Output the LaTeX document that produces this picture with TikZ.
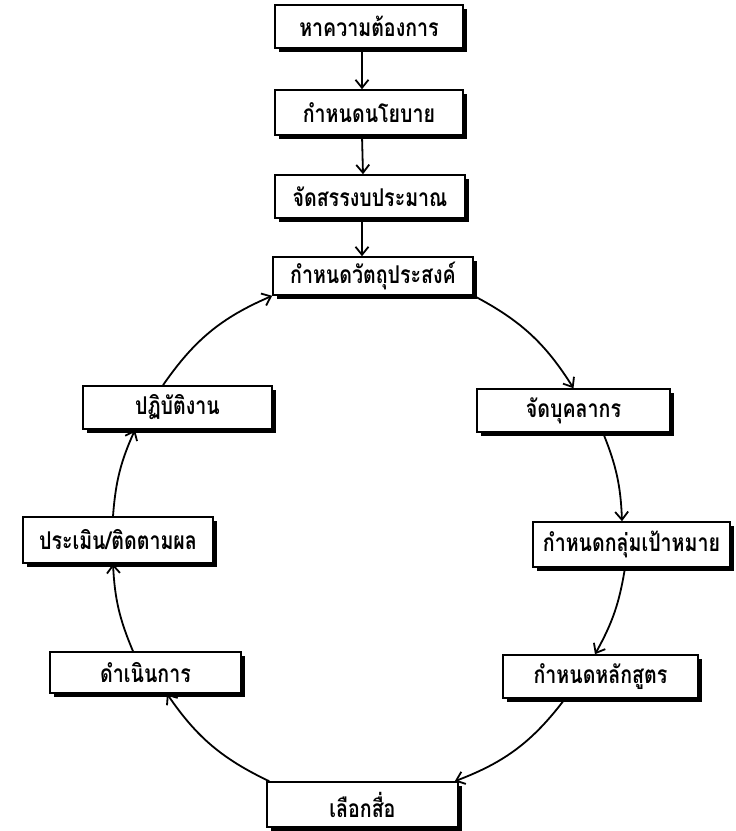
\documentclass[tikz,border=0pt]{standalone}
\usepackage{fontspec}
\newfontfamily\thaifont[Script=Thai,FakeStretch=0.8]{Loma}
\usetikzlibrary{arrows.meta,shadows}
\begin{document}
\begin{tikzpicture}[x=1pt,y=-1pt,
  box/.style={draw=black, line width=1.6pt, fill=white, minimum height=43pt,
    inner sep=0pt, font=\thaifont\bfseries\fontsize{24.5}{26}\selectfont,
    drop shadow={shadow xshift=4pt, shadow yshift=-4pt, fill=black, opacity=1}},
  conn/.style={line width=1.8pt, -{Straight Barb[length=8pt,width=13pt,line width=1.8pt]}}
]
\useasboundingbox (0,0) rectangle (736,831);
\node[box, minimum width=188pt] (n1) at (369,26.5) {หาความต้องการ};
\node[box, minimum width=188pt, minimum height=45pt] (n2) at (369,112.5) {กำหนดนโยบาย};
\node[box, minimum width=190pt] (n3) at (370,196.5) {จัดสรรงบประมาณ};
\node[box, minimum width=200pt, minimum height=38pt] (n4) at (373,276) {กำหนดวัตถุประสงค์};
\node[box, minimum width=193pt] (n5) at (573.5,410.5) {จัดบุคลากร};
\node[box, minimum width=197pt, minimum height=45pt] (n6) at (631.5,544.5) {กำหนดกลุ่มเป้าหมาย};
\node[box, minimum width=195pt] (n7) at (600.5,676.5) {กำหนดหลักสูตร};
\node[box, minimum width=191pt, minimum height=45pt] (n8) at (362.5,804.5) {เลือกสื่อ};
\node[box, minimum width=191pt, minimum height=41pt] (n9) at (145.5,672.5) {ดำเนินการ};
\node[box, minimum width=190pt, minimum height=46pt] (n10) at (118,540) {ประเมิน/ติดตามผล};
\node[box, minimum width=189pt] (n11) at (177.5,407.5) {ปฏิบัติงาน};

\draw[conn] ([xshift=-7pt]n1.south) -- ([xshift=-7pt]n2.north);
\draw[conn] ([xshift=-7pt]n2.south) -- ([xshift=-7pt]n3.north);
\draw[conn] ([xshift=-8pt]n3.south) -- ([xshift=-11pt]n4.north);

\draw[conn] (n4.south east) to[bend left=15] (n5.north);
\draw[conn] ([xshift=29.5pt]n5.south) to[bend left=10] ([xshift=-9.5pt]n6.north);
\draw[conn] ([xshift=-6.5pt]n6.south) to[bend left=10] ([xshift=-5.5pt]n7.north);
\draw[conn] ([xshift=-35.5pt]n7.south) to[bend left=16] ([xshift=-4pt]n8.north east);
\draw[conn] ([xshift=3pt]n8.north west) to[bend left=15] ([xshift=21.5pt]n9.south);
\draw[conn] ([xshift=-12.5pt]n9.north) to[bend left=10] ([xshift=-5pt]n10.south);
\draw[conn] ([xshift=-5pt]n10.north) to[bend left=10] ([xshift=-42.5pt]n11.south);
\draw[conn] ([xshift=-14.5pt]n11.north) to[bend left=16] (n4.south west);
\end{tikzpicture}
\end{document}
